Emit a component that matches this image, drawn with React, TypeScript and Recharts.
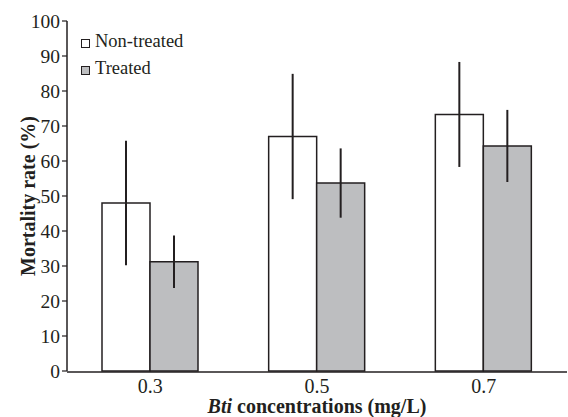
import React from "react";
import {
  BarChart,
  Bar,
  XAxis,
  YAxis,
  ErrorBar,
  Legend,
} from "recharts";

const concentrations = ["0.3", "0.5", "0.7"];
const nonTreated = [48, 67, 73.3];
const nonTreatedErr = [17.8, 17.9, 15];
const treated = [31.2, 53.7, 64.3];
const treatedErr = [7.5, 9.9, 10.3];
const yTicks = [0, 10, 20, 30, 40, 50, 60, 70, 80, 90, 100];
const edgeTicks = [0, 1, 2, 3];

const data = concentrations.map((c, i) => ({
  conc: c,
  nonTreated: nonTreated[i],
  nonTreatedErr: nonTreatedErr[i],
  treated: treated[i],
  treatedErr: treatedErr[i],
}));

const INK = "#231f20";
const GREY = "#bdbec0";
const FONT = "'Liberation Serif', 'Times New Roman', serif";

function LegendBox({ payload }: any) {
  return (
    <div style={{ fontFamily: FONT, fontSize: 18.5, color: INK, lineHeight: "27px" }}>
      {(payload || []).map((p: any) => (
        <div key={p.value} style={{ display: "flex", alignItems: "center" }}>
          <span
            style={{
              display: "inline-block",
              width: 7,
              height: 7,
              border: `1.5px solid ${INK}`,
              background: p.color,
              marginRight: 5,
              marginTop: 3,
            }}
          />
          {p.value}
        </div>
      ))}
    </div>
  );
}

function YTitle({ viewBox }: any) {
  const cx = 35;
  const cy = viewBox.y + viewBox.height / 2;
  return (
    <text
      x={cx}
      y={cy}
      transform={`rotate(-90, ${cx}, ${cy})`}
      textAnchor="middle"
      fontFamily={FONT}
      fontSize={20}
      fontWeight="bold"
      fill={INK}
    >
      Mortality rate (%)
    </text>
  );
}

function XTitle({ viewBox }: any) {
  const cx = viewBox.x + viewBox.width / 2;
  const y = viewBox.y + 41;
  return (
    <text x={cx} y={y} textAnchor="middle" fontFamily={FONT} fontSize={20} fontWeight="bold" fill={INK}>
      <tspan fontStyle="italic">Bti</tspan> concentrations (mg/L)
    </text>
  );
}

export default function App() {
  return (
    <div style={{ position: "absolute", left: 0, top: 0, width: 568, height: 417, background: "#fff" }}>
      <BarChart
        width={568}
        height={417}
        data={data}
        margin={{ top: 21, right: 1, bottom: 0, left: 0 }}
        barSize={48}
        barGap={0}
      >
        <XAxis
          xAxisId="a"
          type="number"
          domain={[0, 3]}
          ticks={edgeTicks}
          tick={false}
          axisLine={false}
          tickLine={{ stroke: INK, strokeWidth: 1.2 }}
          tickSize={4}
          height={1}
          allowDataOverflow
        />
        <XAxis
          xAxisId="b"
          dataKey="conc"
          height={45}
          axisLine={{ stroke: INK, strokeWidth: 1.5 }}
          tickLine={false}
          tickMargin={1}
          tick={{ fontFamily: FONT, fontSize: 20, fill: INK }}
          label={<XTitle />}
        />
        <YAxis
          width={67}
          domain={[0, 100]}
          ticks={yTicks}
          interval={0}
          axisLine={{ stroke: INK, strokeWidth: 1.5 }}
          tickLine={{ stroke: INK, strokeWidth: 1.2 }}
          tickSize={5}
          tickMargin={2}
          tick={{ fontFamily: FONT, fontSize: 19.5, fill: INK }}
          label={<YTitle />}
        />
        <Legend
          layout="vertical"
          verticalAlign="middle"
          align="center"
          content={<LegendBox />}
          wrapperStyle={{ position: "absolute", left: 81, top: 28, width: 160 }}
        />
        <Bar
          xAxisId="b"
          dataKey="nonTreated"
          name="Non-treated"
          fill="#ffffff"
          stroke={INK}
          strokeWidth={1.5}
          isAnimationActive={false}
        >
          <ErrorBar dataKey="nonTreatedErr" width={0} stroke={INK} strokeWidth={2} />
        </Bar>
        <Bar
          xAxisId="b"
          dataKey="treated"
          name="Treated"
          fill={GREY}
          stroke={INK}
          strokeWidth={1.5}
          isAnimationActive={false}
        >
          <ErrorBar dataKey="treatedErr" width={0} stroke={INK} strokeWidth={2} />
        </Bar>
      </BarChart>
    </div>
  );
}
